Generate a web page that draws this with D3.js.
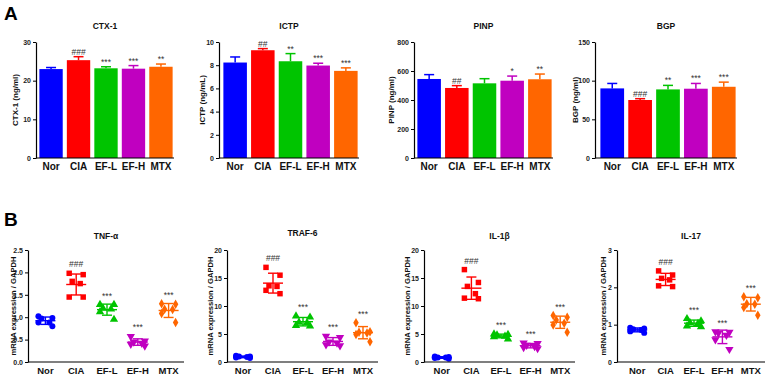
<!DOCTYPE html>
<html>
<head>
<meta charset="utf-8" />
<title>Bone turnover markers and cytokine mRNA</title>
<style>
  body { margin: 0; background: #fff; }
  svg { display: block; font-family: "Liberation Sans", Arial, sans-serif; }
</style>
</head>
<body>
<svg id="chart" width="774" height="377"></svg>
<script src="https://d3js.org/d3.v7.min.js"></script>
<script>
const groups = ["Nor", "CIA", "EF-L", "EF-H", "MTX"];
const groupColors = ["#0000ff", "#ff0000", "#00c400", "#c000c0", "#ff6600"];

// panel A: serum markers, mean and SD per group
const ctxMean = [23.0, 25.3, 23.2, 23.1, 23.6];
const ctxSd = [0.4, 0.9, 0.4, 0.8, 0.7];
const ctxSig = ["", "###", "***", "***", "**"];
const ctxTicks = [0, 10, 20, 30];

const ictpMean = [8.23, 9.29, 8.34, 7.97, 7.51];
const ictpSd = [0.48, 0.14, 0.66, 0.2, 0.26];
const ictpSig = ["", "##", "**", "***", "***"];
const ictpTicks = [0, 2, 4, 6, 8, 10];

const pinpMean = [545, 483, 515, 533, 543];
const pinpSd = [30, 16, 32, 32, 36];
const pinpSig = ["", "##", "", "*", "**"];
const pinpTicks = [0, 200, 400, 600, 800];

const bgpMean = [90.0, 75.0, 88.7, 89.6, 92.1];
const bgpSd = [6.4, 1.7, 5.2, 6.8, 6.0];
const bgpSig = ["", "###", "**", "***", "***"];
const bgpTicks = [0, 50, 100, 150];

// panel B: mRNA expression, six animals per group
const tnfValues = [
  [0.98, 0.97, 1.02, 0.88, 0.80, 0.88],
  [1.95, 1.98, 1.80, 1.75, 1.45, 1.45],
  [1.28, 1.28, 1.18, 1.20, 1.12, 0.95],
  [0.57, 0.47, 0.45, 0.42, 0.40, 0.36],
  [1.30, 1.29, 1.18, 1.17, 1.08, 0.88]
];
const tnfSig = ["", "###", "***", "***", "***"];
const tnfTicks = [0, 0.5, 1.0, 1.5, 2.0, 2.5];

const trafValues = [
  [0.9, 1.0, 1.1, 0.7, 0.8, 1.0],
  [16.9, 15.5, 13.5, 13.6, 12.8, 12.2],
  [8.2, 8.0, 7.1, 7.0, 6.5, 6.4],
  [4.6, 4.4, 3.6, 3.4, 3.1, 2.9],
  [7.0, 5.4, 5.2, 5.3, 4.9, 3.6]
];
const trafSig = ["", "###", "***", "***", "***"];
const trafTicks = [0, 5, 10, 15, 20];

const il1bValues = [
  [0.6, 0.8, 1.0, 0.7, 0.9, 0.8],
  [16.5, 14.2, 13.5, 12.2, 11.4, 11.3],
  [4.9, 5.0, 4.8, 4.6, 4.5, 4.1],
  [3.4, 3.3, 3.0, 2.8, 2.6, 2.4],
  [8.3, 8.0, 7.5, 6.9, 6.6, 5.3]
];
const il1bSig = ["", "###", "***", "***", "***"];
const il1bTicks = [0, 5, 10, 15, 20];

const il17Values = [
  [0.92, 0.90, 0.88, 0.86, 0.82, 0.78],
  [2.44, 2.33, 2.24, 2.20, 2.04, 2.02],
  [1.16, 1.10, 1.05, 1.03, 0.96, 0.94],
  [0.81, 0.80, 0.77, 0.72, 0.60, 0.34],
  [1.75, 1.72, 1.56, 1.55, 1.46, 1.25]
];
const il17Sig = ["", "###", "***", "***", "***"];
const il17Ticks = [0, 1, 2, 3];

const svg = d3.select("#chart");

const barCharts = [
  { title: "CTX-1", yLabel: "CTX-1 (ng/ml)", mean: ctxMean, sd: ctxSd, sig: ctxSig, ticks: ctxTicks, axisX: 36, x0: 38, x1: 174, labelX: 15 },
  { title: "ICTP", yLabel: "ICTP (ng/mL)", mean: ictpMean, sd: ictpSd, sig: ictpSig, ticks: ictpTicks, axisX: 219, x0: 222, x1: 359, labelX: 202 },
  { title: "PINP", yLabel: "PINP (ng/ml)", mean: pinpMean, sd: pinpSd, sig: pinpSig, ticks: pinpTicks, axisX: 414, x0: 416, x1: 553, labelX: 391 },
  { title: "BGP", yLabel: "BGP (ng/ml)", mean: bgpMean, sd: bgpSd, sig: bgpSig, ticks: bgpTicks, axisX: 595, x0: 599, x1: 737, labelX: 575 }
];

const dotCharts = [
  { title: "TNF-\u03b1", values: tnfValues, sig: tnfSig, ticks: tnfTicks, fmt: d3.format(".1f"), axisX: 28, x0: 30, x1: 184, labelX: 13, titleY: 239 },
  { title: "TRAF-6", values: trafValues, sig: trafSig, ticks: trafTicks, fmt: d3.format("d"), axisX: 227, x0: 228, x1: 378, labelX: 210, titleY: 236 },
  { title: "IL-1\u03b2", values: il1bValues, sig: il1bSig, ticks: il1bTicks, fmt: d3.format("d"), axisX: 424, x0: 427, x1: 575, labelX: 407, titleY: 239 },
  { title: "IL-17", values: il17Values, sig: il17Sig, ticks: il17Ticks, fmt: d3.format("d"), axisX: 617, x0: 623, x1: 765, labelX: 603, titleY: 239 }
];

// shared axis drawing
function drawAxes(g, c, x, y, top, bottom, fmt, xFont) {
  const yAx = g.append("g")
    .attr("transform", `translate(${c.axisX},0)`)
    .call(d3.axisLeft(y).tickValues(c.ticks).tickSize(3).tickSizeOuter(0).tickPadding(2).tickFormat(fmt));
  yAx.select(".domain").attr("stroke", "#000").attr("stroke-width", 1.2);
  yAx.selectAll(".tick line").attr("stroke", "#000").attr("stroke-width", 1);
  yAx.selectAll("text").attr("font-size", 7).attr("font-weight", "bold").attr("fill", "#222");

  g.append("line")
    .attr("x1", c.axisX).attr("x2", c.x1)
    .attr("y1", bottom).attr("y2", bottom)
    .attr("stroke", "#000").attr("stroke-width", 1.2);

  const xAx = g.append("g")
    .attr("transform", `translate(0,${bottom})`)
    .call(d3.axisBottom(x).tickSize(0).tickPadding(5));
  xAx.select(".domain").remove();
  xAx.selectAll("text").attr("font-size", xFont).attr("font-weight", "bold").attr("fill", "#111");

  g.append("text")
    .attr("transform", `translate(${c.labelX},${(top + bottom) / 2}) rotate(-90)`)
    .attr("text-anchor", "middle").attr("dy", "0.35em")
    .attr("font-size", c.yLabel ? 8 : 7.6).attr("font-weight", "bold").attr("fill", "#111")
    .text(c.yLabel || "mRNA expression / GAPDH");

  g.append("text")
    .attr("x", (c.axisX + c.x1) / 2).attr("y", c.titleY || 29)
    .attr("text-anchor", "middle")
    .attr("font-size", 8.5).attr("font-weight", "bold").attr("fill", "#111")
    .text(c.title);
}

// panel A bars
const aTop = 42, aBottom = 158;
barCharts.forEach(c => {
  const g = svg.append("g");
  const x = d3.scaleBand().domain(groups).range([c.x0, c.x1]).paddingInner(0.15).paddingOuter(0.05);
  const y = d3.scaleLinear().domain([0, c.ticks[c.ticks.length - 1]]).range([aBottom, aTop]);
  const rows = groups.map((k, i) => ({ k, i, m: c.mean[i], s: c.sd[i], sig: c.sig[i] }));

  g.selectAll(".bar").data(rows).join("rect")
    .attr("x", d => x(d.k)).attr("width", x.bandwidth())
    .attr("y", d => y(d.m)).attr("height", d => y(0) - y(d.m))
    .attr("fill", d => groupColors[d.i]);

  const err = g.selectAll(".err").data(rows).join("g")
    .attr("stroke", d => groupColors[d.i]).attr("stroke-width", 1.5);
  err.append("line")
    .attr("x1", d => x(d.k) + x.bandwidth() / 2).attr("x2", d => x(d.k) + x.bandwidth() / 2)
    .attr("y1", d => y(d.m)).attr("y2", d => y(d.m + d.s));
  err.append("line")
    .attr("x1", d => x(d.k) + x.bandwidth() / 2 - 5).attr("x2", d => x(d.k) + x.bandwidth() / 2 + 5)
    .attr("y1", d => y(d.m + d.s)).attr("y2", d => y(d.m + d.s));

  g.selectAll(".sig").data(rows).join("text")
    .attr("x", d => x(d.k) + x.bandwidth() / 2).attr("y", d => y(d.m + d.s) - 2)
    .attr("text-anchor", "middle").attr("font-size", 8.5).attr("fill", "#333")
    .text(d => d.sig);

  drawAxes(g, c, x, y, aTop, aBottom, d3.format("d"), 10);
});

// panel B scatter with mean and SD
const bTop = 250, bBottom = 362;
const symbols = [d3.symbolCircle, d3.symbolSquare, d3.symbolTriangle, d3.symbolTriangle, d3.symbolDiamond];
const symbolSize = [28, 30, 30, 30, 26];
const spread = [-7, 7, -4, 4, -7, 7];

dotCharts.forEach(c => {
  const g = svg.append("g");
  const x = d3.scaleBand().domain(groups).range([c.x0, c.x1]);
  const y = d3.scaleLinear().domain([0, c.ticks[c.ticks.length - 1]]).range([bBottom, bTop]);
  const rows = groups.map((k, i) => {
    const v = c.values[i];
    return { k, i, v, m: d3.mean(v), s: d3.deviation(v), sig: c.sig[i], cx: x(k) + x.bandwidth() / 2 };
  });

  rows.forEach(r => {
    const order = r.v.map((v, j) => ({ v, j })).sort((a, b) => b.v - a.v);
    g.selectAll(null).data(order).join("path")
      .attr("d", d3.symbol(symbols[r.i], symbolSize[r.i]))
      .attr("transform", (d, n) => `translate(${r.cx + spread[n]},${y(d.v)})` + (r.i === 3 ? " rotate(180)" : ""))
      .attr("fill", groupColors[r.i]);
  });

  const lines = g.selectAll(".ms").data(rows).join("g")
    .attr("stroke", d => groupColors[d.i]).attr("stroke-width", 1.4);
  lines.append("line")
    .attr("x1", d => d.cx - 10).attr("x2", d => d.cx + 10)
    .attr("y1", d => y(d.m)).attr("y2", d => y(d.m));
  lines.append("line")
    .attr("x1", d => d.cx).attr("x2", d => d.cx)
    .attr("y1", d => y(d.m - d.s)).attr("y2", d => y(d.m + d.s));
  lines.append("line")
    .attr("x1", d => d.cx - 5).attr("x2", d => d.cx + 5)
    .attr("y1", d => y(d.m + d.s)).attr("y2", d => y(d.m + d.s));
  lines.append("line")
    .attr("x1", d => d.cx - 5).attr("x2", d => d.cx + 5)
    .attr("y1", d => y(d.m - d.s)).attr("y2", d => y(d.m - d.s));

  g.selectAll(".sig").data(rows).join("text")
    .attr("x", d => d.cx)
    .attr("y", d => Math.min(y(d.m + d.s), y(d3.max(d.v)) - 3) - 3)
    .attr("text-anchor", "middle").attr("font-size", 8.5).attr("fill", "#333")
    .text(d => d.sig);

  drawAxes(g, c, x, y, bTop, bBottom, c.fmt, 9.5);
});

// panel letters
svg.append("text").attr("x", 4).attr("y", 20)
  .attr("font-size", 19).attr("font-weight", "bold").text("A");
svg.append("text").attr("x", 4).attr("y", 226)
  .attr("font-size", 19).attr("font-weight", "bold").text("B");
</script>
</body>
</html>
